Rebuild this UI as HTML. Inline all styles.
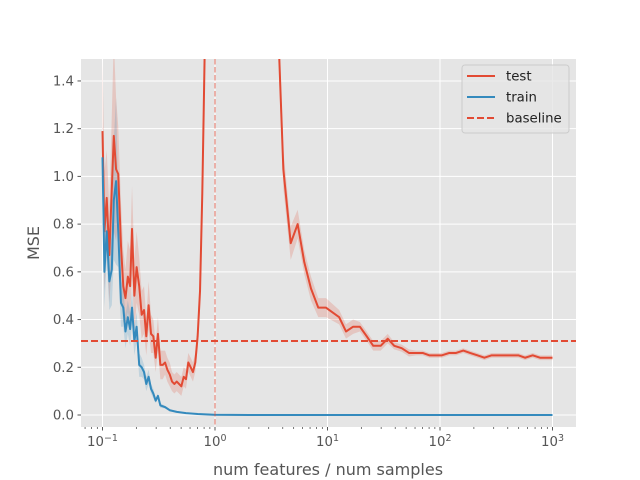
<!DOCTYPE html>
<html><head><meta charset="utf-8"><style>
body{margin:0;background:#fff;}
svg{display:block;font-family:"DejaVu Sans","Liberation Sans",sans-serif;}
</style></head><body>
<svg id="chart" width="640" height="480">
<defs><clipPath id="clip"><rect x="81" y="59" width="495" height="368"/></clipPath></defs>
<rect x="81" y="59" width="495" height="368" fill="#e5e5e5"/>
<g id="grid"></g><g id="ticks"></g>
<g id="series" clip-path="url(#clip)"></g>
<text x="328" y="475" text-anchor="middle" font-size="16" fill="#555">num features / num samples</text>
<text x="0" y="0" transform="translate(39,243) rotate(-90)" text-anchor="middle" font-size="16" fill="#555">MSE</text>
<g id="legend">
<rect x="462" y="65" width="107" height="68" rx="3" fill="#e5e5e5" fill-opacity="0.8" stroke="#ccc" stroke-width="1"/>
<g><line x1="467" y1="76" x2="495" y2="76" stroke="#E24A33" stroke-width="2"/><text x="506" y="80.5" font-size="13.3" fill="#222">test</text></g>
<g><line x1="467" y1="97" x2="495" y2="97" stroke="#348ABD" stroke-width="2"/><text x="506" y="101.5" font-size="13.3" fill="#222">train</text></g>
<g><line x1="467" y1="118" x2="495" y2="118" stroke="#E24A33" stroke-width="2" stroke-dasharray="7,3"/><text x="506" y="122.5" font-size="13.3" fill="#222">baseline</text></g>
</g>
</svg>
<script>
const testX=[0.1,0.104,0.109,0.115,0.126,0.132,0.138,0.146,0.153,0.160,0.168,0.176,0.183,0.192,0.201,0.212,0.223,0.234,0.245,0.257,0.270,0.283,0.297,0.311,0.327,0.343,0.360,0.377,0.396,0.415,0.435,0.457,0.479,0.502,0.527,0.552,0.579,0.608,0.637,0.668,0.701,0.736,0.771,0.794,0.815,0.9,1.5,2.5,3.73,4.05,4.71,5.43,6.22,7.13,8.28,9.70,12.7,14.6,16.9,19.4,22.3,25.5,29.7,34.3,39.2,45.7,53.0,61.2,70.2,80.3,104,121,139,161,185,215,248,288,330,391,497,570,667,774,888,1000];
const testY=[1.19,0.77,0.91,0.67,1.17,1.03,1.01,0.71,0.54,0.49,0.58,0.54,0.78,0.50,0.62,0.54,0.42,0.44,0.33,0.46,0.34,0.33,0.24,0.34,0.21,0.21,0.22,0.19,0.17,0.14,0.13,0.14,0.13,0.12,0.16,0.15,0.22,0.20,0.18,0.22,0.33,0.52,0.93,1.28,1.6,3,10,5,1.49,1.03,0.72,0.80,0.64,0.53,0.45,0.45,0.41,0.35,0.37,0.37,0.33,0.29,0.29,0.32,0.29,0.28,0.26,0.26,0.26,0.25,0.25,0.26,0.26,0.27,0.26,0.25,0.24,0.25,0.25,0.25,0.25,0.24,0.25,0.24,0.24,0.24];
const testErr=[0.3,0.25,0.2,0.2,0.4,0.3,0.2,0.18,0.15,0.12,0.15,0.15,0.18,0.15,0.15,0.12,0.1,0.1,0.08,0.1,0.08,0.07,0.06,0.07,0.06,0.06,0.05,0.05,0.05,0.04,0.04,0.04,0.04,0.04,0.04,0.04,0.04,0.04,0.04,0.04,0.05,0.08,0.1,0.1,0.1,0.2,0.5,0.3,0.1,0.08,0.07,0.06,0.05,0.05,0.04,0.04,0.03,0.03,0.03,0.02,0.02,0.02,0.02,0.02,0.015,0.015,0.015,0.01,0.01,0.01,0.01,0.01,0.01,0.01,0.01,0.01,0.01,0.01,0.01,0.01,0.01,0.01,0.01,0.01,0.01,0.01];
const trainX=[0.1,0.104,0.109,0.115,0.121,0.126,0.132,0.138,0.146,0.153,0.160,0.168,0.176,0.183,0.192,0.201,0.212,0.223,0.234,0.245,0.257,0.270,0.283,0.297,0.311,0.327,0.360,0.396,0.457,0.552,0.701,0.98,2,10,100,1000];
const trainY=[1.08,0.60,0.77,0.56,0.61,0.90,0.98,0.77,0.47,0.45,0.35,0.41,0.36,0.45,0.31,0.37,0.21,0.20,0.18,0.13,0.16,0.11,0.09,0.06,0.08,0.04,0.033,0.02,0.013,0.008,0.004,0.001,0,0,0,0];
const trainErr=[0.15,0.15,0.12,0.12,0.15,0.25,0.35,0.15,0.1,0.08,0.07,0.07,0.07,0.07,0.06,0.06,0.05,0.04,0.03,0.03,0.03,0.02,0.02,0.01,0.01,0.01,0.005,0.005,0,0,0,0,0,0,0,0];
const baseline=0.31;
const yTicks=[0,0.2,0.4,0.6,0.8,1.0,1.2,1.4];
const xDecades=[-1,0,1,2,3];
const NS="http://www.w3.org/2000/svg";
const X=v=>215+112.5*Math.log10(v);
const Y=v=>415-238.6*v;
function mk(tag,attrs,parent){const e=document.createElementNS(NS,tag);for(const k in attrs)e.setAttribute(k,attrs[k]);parent.appendChild(e);return e;}
const grid=document.getElementById('grid'),ticks=document.getElementById('ticks'),ser=document.getElementById('series');
yTicks.forEach(t=>{const y=Y(t);
 const g=mk('line',{x1:81,x2:576,y1:y,y2:y,stroke:'#fff','stroke-width':1},grid);
 
 
 mk('line',{x1:77.5,x2:81,y1:y,y2:y,stroke:'#555'},ticks);
 const l=mk('text',{x:74,y:y+4.5,'text-anchor':'end','font-size':13.3,fill:'#555'},ticks);l.textContent=t.toFixed(1);
 
 
});
xDecades.forEach(d=>{const x=X(Math.pow(10,d));
 const g=mk('line',{x1:x,x2:x,y1:59,y2:427,stroke:'#fff','stroke-width':1},grid);
 
 
 mk('line',{x1:x,x2:x,y1:427,y2:430.5,stroke:'#555'},ticks);
 const t=mk('text',{x:x,y:446,'text-anchor':'middle','font-size':13.3,fill:'#555'},ticks);
 
 
 t.appendChild(document.createTextNode('10'));
 const s=mk('tspan',{dy:-5,'font-size':9.5},t);s.textContent=String(d).replace('-','\u2212');
});
for(let d=-2;d<=3;d++)for(let m=2;m<10;m++){const x=X(m*Math.pow(10,d));if(x>81&&x<576)mk('line',{x1:x,x2:x,y1:427,y2:429,stroke:'#555','stroke-width':0.8},ticks);}
function band(xs,ys,es,color,name){let up=xs.map((x,i)=>X(x)+','+Y(ys[i]+es[i]));let dn=xs.map((x,i)=>X(x)+','+Y(ys[i]-es[i])).reverse();
 const p=mk('polygon',{points:up.concat(dn).join(' '),fill:color,'fill-opacity':0.2},ser);
 
 }
function line(xs,ys,color,name){const p=mk('polyline',{points:xs.map((x,i)=>X(x)+','+Y(ys[i])).join(' '),fill:'none',stroke:color,'stroke-width':2,'stroke-linejoin':'round'},ser);
 
 }
band(testX,testY,testErr,'#E24A33','test-band');
band(trainX,trainY,trainErr,'#348ABD','train-band');
line(testX,testY,'#E24A33','test-line');
line(trainX,trainY,'#348ABD','train-line');
const vl=mk('line',{x1:X(1),x2:X(1),y1:59,y2:427,stroke:'#E24A33','stroke-opacity':0.5,'stroke-width':1.5,'stroke-dasharray':'5.5,2.5'},ser);


const bl=mk('line',{x1:81,x2:576,y1:Y(baseline),y2:Y(baseline),stroke:'#E24A33','stroke-width':2,'stroke-dasharray':'7,3'},ser);


</script>
</body></html>
